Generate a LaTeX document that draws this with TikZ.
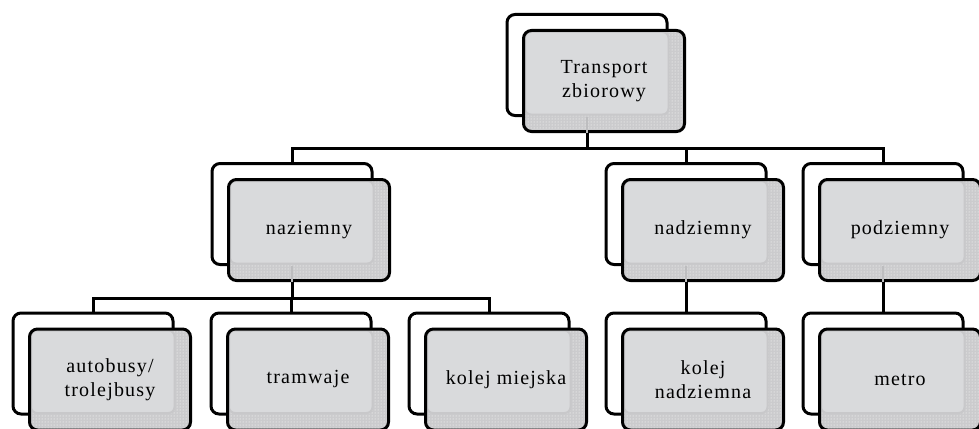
\documentclass[tikz,border=0pt]{standalone}
\usepackage{fontspec}
\setmainfont[LetterSpace=6]{Liberation Serif}
\usetikzlibrary{patterns,calc}
\definecolor{innerg}{HTML}{D9DADC}
\definecolor{stripg}{HTML}{CBCBCD}
\definecolor{rimg}{HTML}{C8C8CA}
\definecolor{faintg}{HTML}{BDBDBF}
\tikzset{
  backbox/.style={draw=black, line width=3pt, fill=white, rounded corners=8pt,
    minimum width=160pt, minimum height=101pt, inner sep=0pt},
  frontbox/.style={draw=black, line width=3pt, rounded corners=8pt,
    minimum width=161pt, minimum height=101pt, inner sep=0pt, align=center,
    font=\fontsize{20}{24}\selectfont,
    preaction={fill=stripg}, pattern=dots, pattern color=white,
    path picture={\fill[innerg, draw=rimg, line width=2pt, rounded corners=6pt]
      ($(path picture bounding box.south west)+(1.5pt,17pt)$) rectangle
      ($(path picture bounding box.north east)+(-16pt,-1.5pt)$);}},
  conn/.style={draw=black, line width=3pt},
  faint/.style={draw=faintg, line width=2pt}
}
\begin{document}
\begin{tikzpicture}[x=1pt,y=-1pt]
\useasboundingbox (0,0) rectangle (979,428);
\clip (0,0) rectangle (979,428);
\fill[white] (0,0) rectangle (979,428);
% back boxes
\node[backbox] (tB) at (587,65) {};
\node[backbox] (nazB) at (292,214) {};
\node[backbox] (nadB) at (686,214) {};
\node[backbox] (podB) at (883,214) {};
\node[backbox] (autB) at (93,363.5) {};
\node[backbox] (traB) at (291,363.5) {};
\node[backbox] (komB) at (489,363.5) {};
\node[backbox] (konB) at (686,363.5) {};
\node[backbox] (metB) at (883,363.5) {};
% connectors
\coordinate (bus1) at (587,148);
\coordinate (bus2) at (292,298);
\draw[conn] (tB.south) -- (bus1);
\draw[conn] (bus1) -| (nazB.north);
\draw[conn] (bus1) -| (nadB.north);
\draw[conn] (bus1) -| (podB.north);
\draw[conn] (nazB.south) -- (bus2);
\draw[conn] (bus2) -| (autB.north);
\draw[conn] (bus2) -| (traB.north);
\draw[conn] (bus2) -| (komB.north);
\draw[conn] (nadB.south) -- (konB.north);
\draw[conn] (podB.south) -- (metB.north);
% front boxes
\node[frontbox] (t) at (604,81) {Transport\\zbiorowy};
\node[frontbox] (naz) at (309,230) {naziemny};
\node[frontbox] (nad) at (703,230) {nadziemny};
\node[frontbox] (pod) at (900,230) {podziemny};
\node[frontbox] (aut) at (110,379.5) {autobusy/\\trolejbusy};
\node[frontbox] (tra) at (308,379.5) {tramwaje};
\node[frontbox] (kom) at (506,379.5) {kolej miejska};
\node[frontbox] (kon) at (703,379.5) {kolej\\nadziemna};
\node[frontbox] (met) at (900,379.5) {metro};
% faint connector traces behind the front boxes
\draw[faint] (tB.south) -- (tB.south |- t.south);
\draw[faint] (nazB.south) -- (nazB.south |- naz.south);
\draw[faint] (nadB.south) -- (nadB.south |- nad.south);
\draw[faint] (podB.south) -- (podB.south |- pod.south);
\end{tikzpicture}
\end{document}
